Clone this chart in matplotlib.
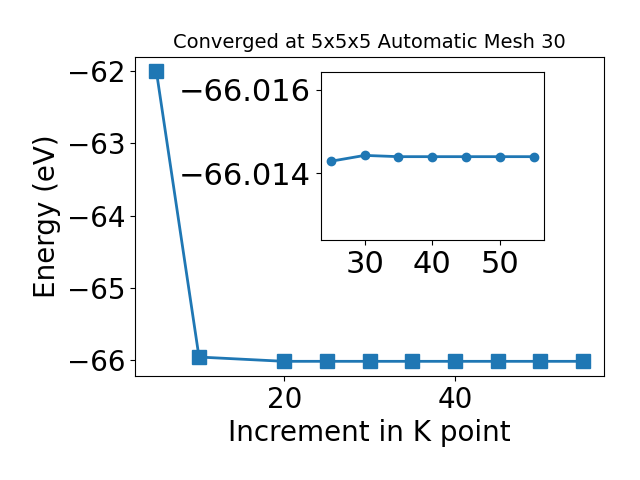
import numpy as np
import matplotlib
matplotlib.use("Agg")
import matplotlib.pyplot as plt
from matplotlib.ticker import MultipleLocator

# k-point increment vs total energy
kpts = [5, 10, 20, 25, 30, 35, 40, 45, 50, 55]
energy = [-62.0, -65.955, -66.0144, -66.01429, -66.01443, -66.0144, -66.0144, -66.0144, -66.0144, -66.0144]

# zoomed part for the inset
kpts_zoom = [25, 30, 35, 40, 45, 50, 55]
energy_zoom = [-66.01429, -66.01443, -66.0144, -66.0144, -66.0144, -66.0144, -66.0144]

fig = plt.figure(figsize=(6.4, 4.8), dpi=100)
ax = fig.add_axes([0.211, 0.217, 0.733, 0.665])
ax.plot(kpts, energy, marker='s', markersize=10, linewidth=2, color='#1f77b4')
ax.set_xlabel("Increment in K point", fontsize=20)
ax.set_ylabel("Energy (eV)", fontsize=20)
ax.set_title("Converged at 5x5x5 Automatic Mesh 30", fontsize=14)
ax.tick_params(labelsize=20)
ax.xaxis.set_major_locator(MultipleLocator(20))
ax.yaxis.set_major_locator(MultipleLocator(1))

ins = fig.add_axes([0.501, 0.5, 0.349, 0.349])
ins.plot(kpts_zoom, energy_zoom, marker='o', linewidth=2, color='#1f77b4')
ins.set_ylim(-66.01241, -66.01641)
ins.yaxis.set_major_locator(MultipleLocator(0.002))
ins.xaxis.set_major_locator(MultipleLocator(10))
ins.ticklabel_format(axis='y', useOffset=False)
ins.tick_params(labelsize=22)

fig.savefig("out.png")
